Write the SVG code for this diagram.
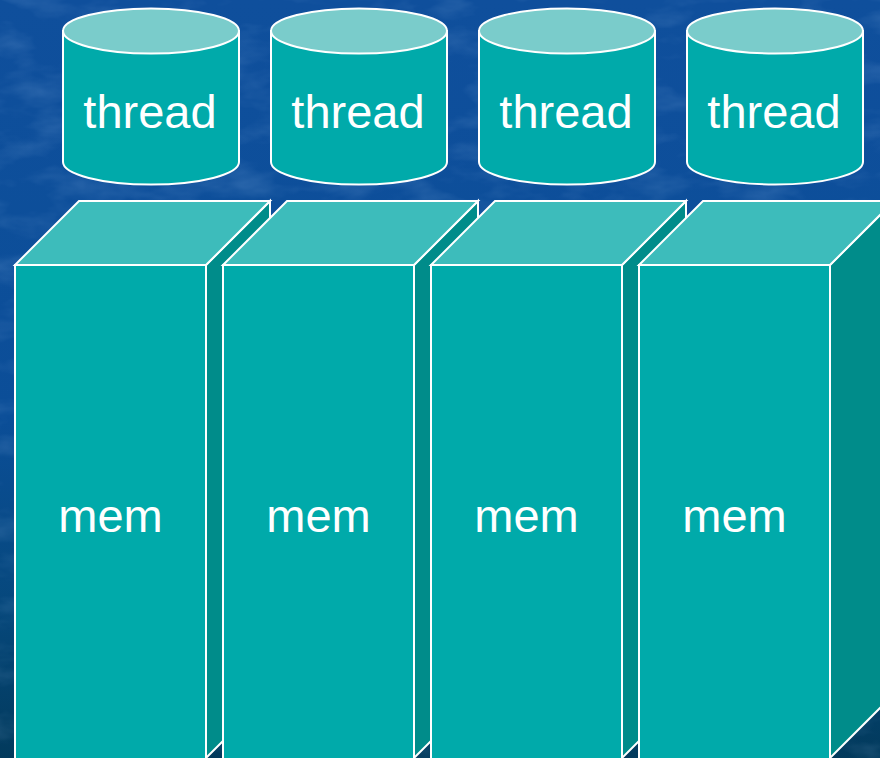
<svg xmlns="http://www.w3.org/2000/svg" width="880" height="758" viewBox="0 0 880 758">
  <defs>
    <linearGradient id="bgGrad" x1="0" y1="0" x2="0" y2="1">
      <stop offset="0" stop-color="#0f4f9c"/>
      <stop offset="0.55" stop-color="#0b4e98"/>
      <stop offset="0.8" stop-color="#06487c"/>
      <stop offset="1" stop-color="#023a5c"/>
    </linearGradient>
    <!-- faint marbled texture over the background -->
    <filter id="marble" x="0" y="0" width="100%" height="100%">
      <feTurbulence type="fractalNoise" baseFrequency="0.015 0.035" numOctaves="4" seed="7" result="noise"/>
      <feColorMatrix in="noise" type="matrix" values="0 0 0 0 0.35  0 0 0 0 0.55  0 0 0 0 0.85  0 0 0 1.2 -0.55" result="tint"/>
      <feComposite in="tint" in2="SourceGraphic" operator="in"/>
    </filter>
    <style>
      .front { fill: #00aaaa; stroke: #ffffff; stroke-width: 2; }
      .top { fill: #3dbcbb; stroke: #ffffff; stroke-width: 2; }
      .side { fill: #008c8a; stroke: #ffffff; stroke-width: 2; }
      .cyl-body { fill: #00aaaa; stroke: #ffffff; stroke-width: 2; }
      .cyl-top { fill: #7acccb; stroke: #ffffff; stroke-width: 2; }
      .label { font-family: "Liberation Sans", Arial, sans-serif; font-size: 47px; fill: #ffffff; text-anchor: middle; }
    </style>
  </defs>

  <!-- background -->
  <rect x="0" y="0" width="880" height="758" fill="url(#bgGrad)"/>
  <rect x="0" y="0" width="880" height="758" fill="#ffffff" filter="url(#marble)" opacity="0.35"/>

  <!-- memory blocks (3D boxes) -->
  <g id="mem1">
    <polygon class="side" points="206,265 270,201 270,694 206,758"/>
    <polygon class="top" points="15,265 79,201 270,201 206,265"/>
    <rect class="front" x="15" y="265" width="191" height="500"/>
    <text class="label" x="110.5" y="532">mem</text>
  </g>
  <g id="mem2">
    <polygon class="side" points="414,265 478,201 478,694 414,758"/>
    <polygon class="top" points="223,265 287,201 478,201 414,265"/>
    <rect class="front" x="223" y="265" width="191" height="500"/>
    <text class="label" x="318.5" y="532">mem</text>
  </g>
  <g id="mem3">
    <polygon class="side" points="622,265 686,201 686,694 622,758"/>
    <polygon class="top" points="431,265 495,201 686,201 622,265"/>
    <rect class="front" x="431" y="265" width="191" height="500"/>
    <text class="label" x="526.5" y="532">mem</text>
  </g>
  <g id="mem4">
    <polygon class="side" points="830,265 894,201 894,694 830,758"/>
    <polygon class="top" points="639,265 703,201 894,201 830,265"/>
    <rect class="front" x="639" y="265" width="191" height="500"/>
    <text class="label" x="734.5" y="532">mem</text>
  </g>

  <!-- thread cylinders -->
  <g id="thread1">
    <path class="cyl-body" d="M63,31 L63,162 A88,22.5 0 0 0 239,162 L239,31 Z"/>
    <ellipse class="cyl-top" cx="151" cy="31" rx="88" ry="22.5"/>
    <text class="label" x="150" y="128">thread</text>
  </g>
  <g id="thread2">
    <path class="cyl-body" d="M271,31 L271,162 A88,22.5 0 0 0 447,162 L447,31 Z"/>
    <ellipse class="cyl-top" cx="359" cy="31" rx="88" ry="22.5"/>
    <text class="label" x="358" y="128">thread</text>
  </g>
  <g id="thread3">
    <path class="cyl-body" d="M479,31 L479,162 A88,22.5 0 0 0 655,162 L655,31 Z"/>
    <ellipse class="cyl-top" cx="567" cy="31" rx="88" ry="22.5"/>
    <text class="label" x="566" y="128">thread</text>
  </g>
  <g id="thread4">
    <path class="cyl-body" d="M687,31 L687,162 A88,22.5 0 0 0 863,162 L863,31 Z"/>
    <ellipse class="cyl-top" cx="775" cy="31" rx="88" ry="22.5"/>
    <text class="label" x="774" y="128">thread</text>
  </g>

  <g id="connectors"></g>
</svg>
